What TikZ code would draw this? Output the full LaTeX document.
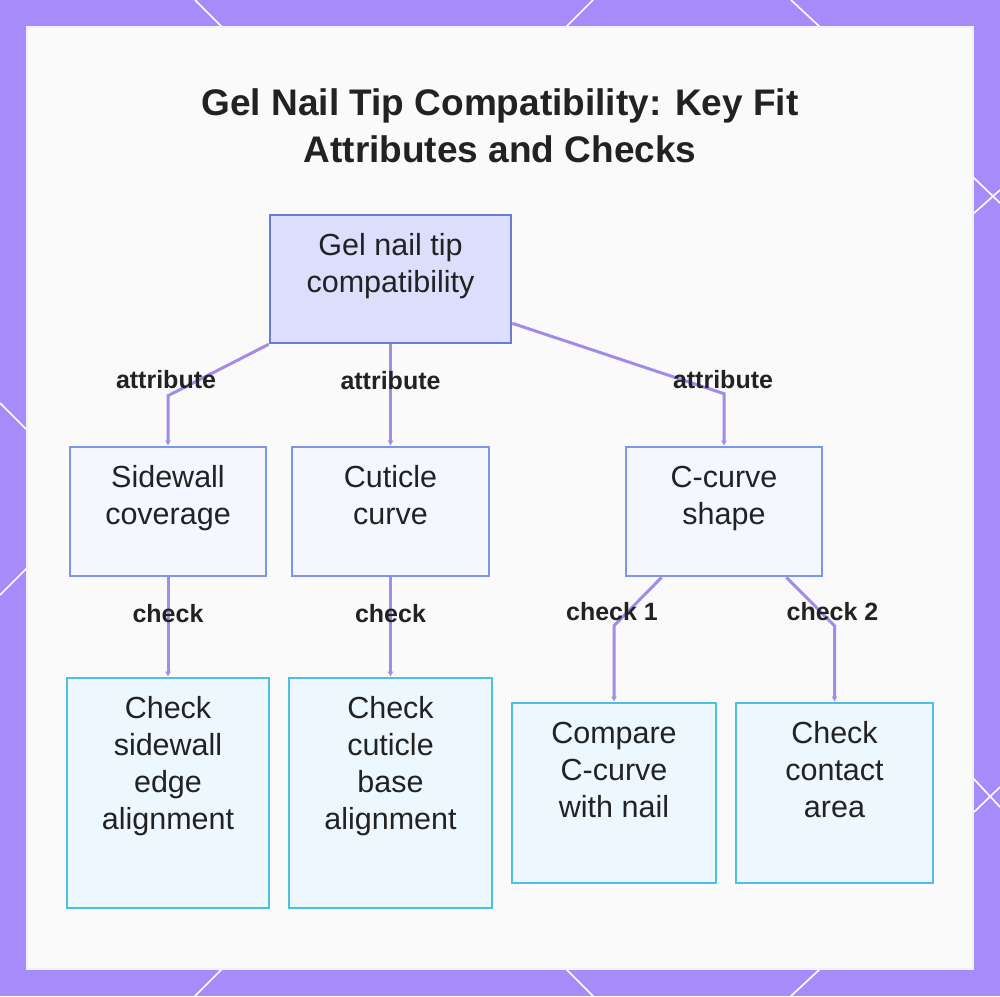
\documentclass[tikz,border=0pt]{standalone}
\usepackage{fontspec}
\setmainfont{Liberation Sans}
\usepackage{xcolor}
\usetikzlibrary{arrows.meta}

\definecolor{frame}{HTML}{A78BFA}
\definecolor{panel}{HTML}{FAFAFA}
\definecolor{rootfill}{HTML}{DCDFFC}
\definecolor{rootline}{HTML}{6A7BD6}
\definecolor{attrfill}{HTML}{F5F7FF}
\definecolor{attrline}{HTML}{7F95EA}
\definecolor{chkfill}{HTML}{EDF7FF}
\definecolor{chkline}{HTML}{4DBFE6}
\definecolor{edgecol}{HTML}{A48BE8}
\definecolor{ink}{HTML}{222222}

% box text: width, height, lines (top aligned)
\newcommand{\boxlines}[3]{\parbox[c][#2][t]{#1}{\centering\rule{0pt}{40pt}#3}}

\tikzset{
  rootbox/.style={draw=rootline, fill=rootfill, line width=2.6pt, inner sep=0pt, text=ink},
  attrbox/.style={draw=attrline, fill=attrfill, line width=2.6pt, inner sep=0pt, text=ink},
  chkbox/.style={draw=chkline, fill=chkfill, line width=2.6pt, inner sep=0pt, text=ink},
  edge/.style={draw=edgecol, line width=3pt, -{Latex[length=5pt,width=6pt]}},
  lbl/.style={font=\fontsize{25}{30}\selectfont\bfseries, text=ink, inner sep=0pt, anchor=base}
}

\begin{document}
\begin{tikzpicture}[x=1pt, y=-1pt, font=\fontsize{30.5}{37}\selectfont]

      \useasboundingbox (0, 0) rectangle (1000, 996);
      \fill[frame] (0, 0) rectangle (1000, 996);
      \draw[white, line width=1.6pt]
        (195, 0) -- (222, 27)   (593, 0) -- (566, 27)   (791, 0) -- (820, 27)
        (222, 969) -- (195, 996) (566, 969) -- (593, 996) (820, 969) -- (791, 996)
        (0, 403) -- (27, 430)   (27, 568) -- (0, 595)
        (973, 177) -- (1000, 203) (973, 214) -- (1000, 190)
        (973, 778) -- (1000, 807) (973, 813) -- (1000, 787);
      \draw[fill=panel, draw={rgb,255:red,243;green,240;blue,255}, line width=1.5pt]
        (27, 27) rectangle (973, 969);

      \node[anchor=north, align=center, inner sep=0pt, text=ink,
            font=\fontsize{37}{47}\selectfont\bfseries] (title) at (500, 88.5)
        {Gel Nail Tip Compatibility: Key Fit\\Attributes and Checks};

      \node[rootbox] (root)    at (390.5, 279)   {\boxlines{241pt}{128pt}{Gel nail tip\\compatibility}};

      \node[attrbox] (side)    at (168, 511.5)   {\boxlines{196pt}{129pt}{Sidewall\\coverage}};
      \node[attrbox] (cut)     at (390.5, 511.5) {\boxlines{197pt}{129pt}{Cuticle\\curve}};
      \node[attrbox] (ccurve)  at (724, 511.5)   {\boxlines{196pt}{129pt}{C-curve\\shape}};

      \node[chkbox]  (chkside) at (168, 793)     {\boxlines{202pt}{230pt}{Check\\sidewall\\edge\\alignment}};
      \node[chkbox]  (chkcut)  at (390.5, 793)   {\boxlines{203pt}{230pt}{Check\\cuticle\\base\\alignment}};
      \node[chkbox]  (compare) at (614, 793)     {\boxlines{204pt}{180pt}{Compare\\C-curve\\with nail}};
      \node[chkbox]  (contact) at (834.5, 793)   {\boxlines{197pt}{180pt}{Check\\contact\\area}};

      \draw[edge] (root.south west) -- ([yshift=50pt]side.north)
        node[lbl, xshift=-2pt, yshift=7pt] {attribute} -- (side.north);
      \draw[edge] (root.south) -- node[lbl, pos=0.45] {attribute} (cut.north);
      \draw[edge] ([yshift=21pt]root.south east) -- ([yshift=52pt]ccurve.north)
        node[lbl, xshift=-1pt, yshift=5pt] {attribute} -- (ccurve.north);

      \draw[edge] (side.south) -- node[lbl, pos=0.45] {check} (chkside.north);
      \draw[edge] (cut.south)  -- node[lbl, pos=0.45] {check} (chkcut.north);
      \draw[edge] ([xshift=37pt]ccurve.south west) -- ([yshift=76pt]compare.north)
        node[lbl, xshift=-2pt, yshift=5pt] {check 1} -- (compare.north);
      \draw[edge] ([xshift=-37pt]ccurve.south east) -- ([yshift=76pt]contact.north)
        node[lbl, xshift=-2pt, yshift=5pt] {check 2} -- (contact.north);

\end{tikzpicture}
\end{document}
